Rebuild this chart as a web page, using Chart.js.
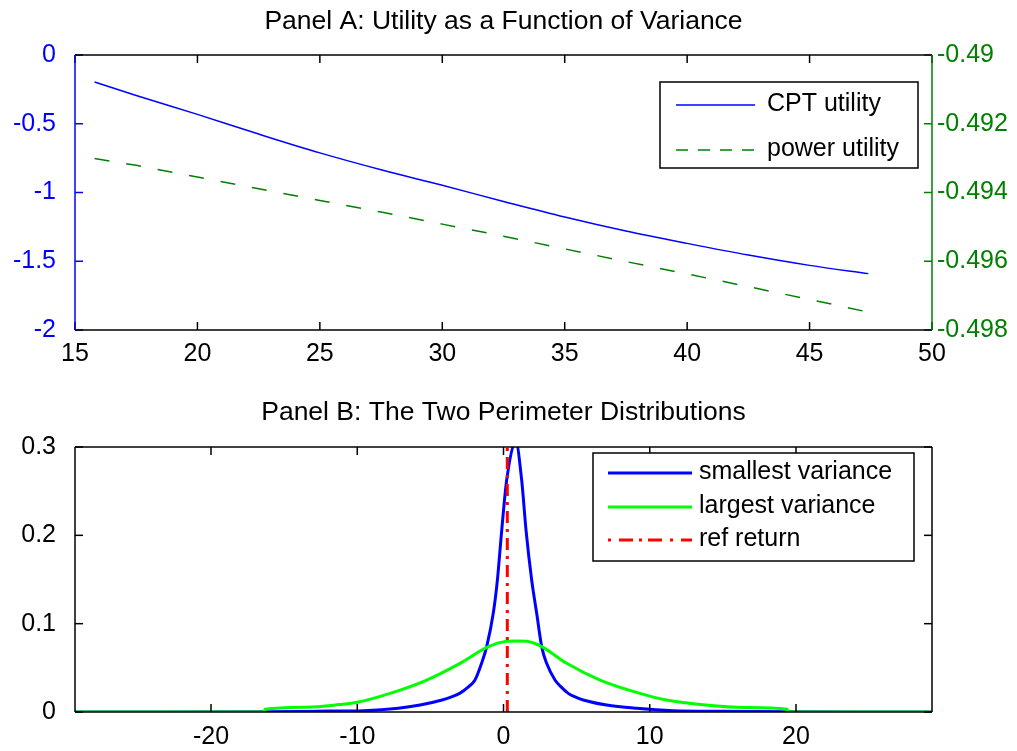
<!DOCTYPE html>
<html><head><meta charset="utf-8">
<script src="https://cdn.jsdelivr.net/npm/chart.js@4.4.1/dist/chart.umd.min.js"></script>
<style>
html,body{margin:0;padding:0;background:#fff;}
#wrap{position:relative;width:1017px;height:751px;overflow:hidden;background:#fff;}
canvas{position:absolute;left:0;}
#cA{top:0;width:1017px;height:375px;}
#cB{top:375px;width:1017px;height:376px;}
</style></head><body>
<div id="wrap"><canvas id="cA" width="1017" height="375"></canvas><canvas id="cB" width="1017" height="376"></canvas></div>
<script>
// ---------- Panel A data ----------
const varianceA = [15.8, 17.5, 20, 22.5, 25, 27.5, 30, 32.5, 35, 37.5, 40, 42.5, 45, 47.4];
const cptUtility = [-0.196, -0.295, -0.432, -0.575, -0.712, -0.835, -0.948, -1.065, -1.178, -1.28, -1.37, -1.455, -1.53, -1.59];
const powerUtility = [-0.49301, -0.49321, -0.49355, -0.49389, -0.49423, -0.49457, -0.49492, -0.49527, -0.49564, -0.49601, -0.49637, -0.49674, -0.49711, -0.49748];
const xTicksA = [15, 20, 25, 30, 35, 40, 45, 50];
const yTicksA = [-2, -1.5, -1, -0.5, 0];
const y2TicksA = [-0.498, -0.496, -0.494, -0.492, -0.49];
const titleA = 'Panel A: Utility as a Function of Variance';

// ---------- Panel B data ----------
const xSmall = [-29.3, -16.2, -14, -12, -9.6, -7.2, -5.7, -4.2, -3.6, -3.0, -2.4, -1.95, -1.5, -1.15, -0.7, -0.42, -0.12, 0.22, 0.85, 1.24, 1.54, 1.93, 2.27, 2.61, 2.95, 3.52, 3.9, 4.43, 4.9, 5.45, 7.05, 9.1, 11.6, 15, 19.5, 29.3];
const ySmall = [0, 0.0004, 0.0006, 0.001, 0.0015, 0.0042, 0.0079, 0.0136, 0.0168, 0.0211, 0.0285, 0.0362, 0.0551, 0.074, 0.1117, 0.149, 0.206, 0.263, 0.305, 0.263, 0.206, 0.149, 0.1117, 0.074, 0.0551, 0.0362, 0.029, 0.0211, 0.017, 0.0136, 0.0079, 0.0042, 0.0015, 0.0008, 0.0003, 0];
const xLarge = [-29.3, -16.4, -16.3, -13.4, -11.2, -10, -7.76, -5.25, -2.97, -1.04, 0.2, 0.9, 1.6, 2.61, 4.32, 6.6, 9.33, 11.15, 13.8, 16.5, 19.4, 19.5, 29.3];
const yLarge = [0, 0, 0.003, 0.0055, 0.0085, 0.011, 0.0211, 0.0362, 0.0551, 0.074, 0.0800, 0.0805, 0.0800, 0.074, 0.0551, 0.0362, 0.0211, 0.0136, 0.0079, 0.005, 0.003, 0, 0];
const refReturn = 0.26;
const refSpan = [0, 0.3];
const xTicksB = [-20, -10, 0, 10, 20];
const yTicksB = [0, 0.1, 0.2, 0.3];
const titleB = 'Panel B: The Two Perimeter Distributions';

const FONT = "'Liberation Sans', Arial, Helvetica, sans-serif";
Chart.defaults.font.family = FONT;
Chart.defaults.font.size = 25;
Chart.defaults.color = '#000';

const pairs = (xs, ys) => xs.map((x, i) => ({x, y: ys[i]}));
const setTicks = arr => s => { s.ticks = arr.map(v => ({value: v})); };
const fmt = v => String(Math.round(v * 10000) / 10000);

const axTitle = {
  id: 'axTitle',
  afterDraw(chart, args, o) {
    const {ctx, chartArea: a} = chart;
    ctx.save();
    ctx.fillStyle = '#000';
    ctx.font = o.size + 'px ' + FONT;
    ctx.textAlign = 'center';
    ctx.textBaseline = 'middle';
    ctx.fillText(o.text, (a.left + a.right) / 2, o.y);
    ctx.restore();
  }
};

const framePlugin = {
  id: 'frame',
  afterDatasetsDraw(chart, args, o) {
    const {ctx, chartArea: a} = chart;
    ctx.save();
    ctx.lineWidth = o.lw;
    ctx.setLineDash([]);
    o.ticks.forEach(t => {
      const s = chart.scales[t.scale];
      ctx.strokeStyle = t.color;
      s.ticks.forEach(tk => {
        const p = s.getPixelForValue(tk.value);
        t.sides.forEach(side => {
          ctx.beginPath();
          if (side === 'bottom') { ctx.moveTo(p, a.bottom); ctx.lineTo(p, a.bottom - o.len); }
          if (side === 'top') { ctx.moveTo(p, a.top); ctx.lineTo(p, a.top + o.len); }
          if (side === 'left') { ctx.moveTo(a.left, p); ctx.lineTo(a.left + o.len, p); }
          if (side === 'right') { ctx.moveTo(a.right, p); ctx.lineTo(a.right - o.len, p); }
          ctx.stroke();
        });
      });
    });
    const e = o.edges;
    const seg = (c, x1, y1, x2, y2) => { ctx.strokeStyle = c; ctx.beginPath(); ctx.moveTo(x1, y1); ctx.lineTo(x2, y2); ctx.stroke(); };
    seg(e.top, a.left, a.top, a.right, a.top);
    seg(e.bottom, a.left, a.bottom, a.right, a.bottom);
    seg(e.left, a.left, a.top, a.left, a.bottom);
    seg(e.right, a.right, a.top, a.right, a.bottom);
    ctx.restore();
  }
};

const boxLegend = {
  id: 'boxLegend',
  afterDraw(chart, args, o) {
    const ctx = chart.ctx;
    ctx.save();
    ctx.fillStyle = '#fff';
    ctx.fillRect(o.x, o.y, o.w, o.h);
    ctx.strokeStyle = '#000';
    ctx.lineWidth = 1.5;
    ctx.setLineDash([]);
    ctx.strokeRect(o.x, o.y, o.w, o.h);
    chart.data.datasets.forEach((ds, i) => {
      const y = o.rowY[i];
      ctx.strokeStyle = ds.borderColor;
      ctx.lineWidth = ds.borderWidth;
      ctx.setLineDash(o.dashes[i] || []);
      ctx.beginPath(); ctx.moveTo(o.x1, y); ctx.lineTo(o.x2, y); ctx.stroke();
      ctx.setLineDash([]);
      ctx.fillStyle = '#000';
      ctx.font = '25px ' + FONT;
      ctx.textBaseline = 'middle';
      ctx.textAlign = 'left';
      ctx.fillText(ds.label, o.tx, y - 1);
    });
    ctx.restore();
  }
};

const BLUE_A = '#0000ff', GREEN_A = '#008000';

new Chart(document.getElementById('cA'), {
  type: 'line',
  data: {
    datasets: [
      {label: 'CPT utility', data: pairs(varianceA, cptUtility), yAxisID: 'y', borderColor: BLUE_A, borderWidth: 1.5, pointRadius: 0, cubicInterpolationMode: 'monotone', clip: 0},
      {label: 'power utility', data: pairs(varianceA, powerUtility), yAxisID: 'y2', borderColor: GREEN_A, borderWidth: 1.5, borderDash: [15, 17], pointRadius: 0, tension: 0, clip: 0}
    ]
  },
  options: {
    responsive: false, animation: false, devicePixelRatio: 1,
    layout: {padding: {top: 55}},
    scales: {
      x: {type: 'linear', min: 15, max: 50, afterBuildTicks: setTicks(xTicksA),
          afterFit: s => { s.height = 45; },
          grid: {display: false, drawTicks: false}, border: {display: false},
          ticks: {padding: 9, color: '#000', callback: v => fmt(v), maxRotation: 0, autoSkip: false}},
      y: {type: 'linear', position: 'left', min: -2, max: 0, afterBuildTicks: setTicks(yTicksA),
          afterFit: s => { s.width = 75; },
          grid: {display: false, drawTicks: false}, border: {display: false},
          ticks: {padding: 19, color: BLUE_A, callback: v => fmt(v), autoSkip: false}},
      y2: {type: 'linear', position: 'right', min: -0.498, max: -0.49, afterBuildTicks: setTicks(y2TicksA),
          afterFit: s => { s.width = 85; },
          grid: {display: false, drawTicks: false}, border: {display: false},
          ticks: {padding: 5, color: GREEN_A, callback: v => fmt(v), autoSkip: false}}
    },
    plugins: {
      legend: {display: false}, tooltip: {enabled: false}, title: {display: false},
      axTitle: {text: titleA, size: 26.5, y: 22},
      frame: {lw: 1.5, len: 8, edges: {top: '#000', bottom: '#000', left: BLUE_A, right: GREEN_A},
              ticks: [{scale: 'x', sides: ['top', 'bottom'], color: '#000'},
                      {scale: 'y', sides: ['left'], color: BLUE_A},
                      {scale: 'y2', sides: ['right'], color: GREEN_A}]},
      boxLegend: {x: 660, y: 82, w: 258, h: 86, x1: 676, x2: 755, tx: 767, rowY: [105, 150], dashes: [[], [12, 10]]}
    }
  },
  plugins: [framePlugin, boxLegend, axTitle]
});

new Chart(document.getElementById('cB'), {
  type: 'line',
  data: {
    datasets: [
      {label: 'smallest variance', data: pairs(xSmall, ySmall), borderColor: '#0000ff', borderWidth: 3, pointRadius: 0, cubicInterpolationMode: 'monotone', order: 3, clip: 0},
      {label: 'largest variance', data: pairs(xLarge, yLarge), borderColor: '#00ff00', borderWidth: 3, pointRadius: 0, cubicInterpolationMode: 'monotone', order: 2, clip: 0},
      {label: 'ref return', data: refSpan.map(y => ({x: refReturn, y})), borderColor: '#ff0000', borderWidth: 3, borderDash: [12, 6, 3, 6], pointRadius: 0, tension: 0, order: 1, clip: 0}
    ]
  },
  options: {
    responsive: false, animation: false, devicePixelRatio: 1,
    layout: {padding: {top: 72, right: 85}},
    scales: {
      x: {type: 'linear', min: -29.3, max: 29.3, afterBuildTicks: setTicks(xTicksB),
          afterFit: s => { s.height = 39; },
          grid: {display: false, drawTicks: false}, border: {display: false},
          ticks: {padding: 10, color: '#000', callback: v => fmt(v), maxRotation: 0, autoSkip: false}},
      y: {type: 'linear', position: 'left', min: 0, max: 0.3, afterBuildTicks: setTicks(yTicksB),
          afterFit: s => { s.width = 75; },
          grid: {display: false, drawTicks: false}, border: {display: false},
          ticks: {padding: 19, color: '#000', callback: v => fmt(v), autoSkip: false}}
    },
    plugins: {
      legend: {display: false}, tooltip: {enabled: false}, title: {display: false},
      axTitle: {text: titleB, size: 26.5, y: 38},
      frame: {lw: 1.5, len: 8, edges: {top: '#000', bottom: '#000', left: '#000', right: '#000'},
              ticks: [{scale: 'x', sides: ['top', 'bottom'], color: '#000'},
                      {scale: 'y', sides: ['left', 'right'], color: '#000'}]},
      boxLegend: {x: 593, y: 78, w: 321, h: 108, x1: 608, x2: 692, tx: 699, rowY: [98, 132, 165], dashes: [[], [], [3, 8, 14, 6, 3, 6, 14, 8]]}
    }
  },
  plugins: [framePlugin, boxLegend, axTitle]
});
</script>
</body></html>
